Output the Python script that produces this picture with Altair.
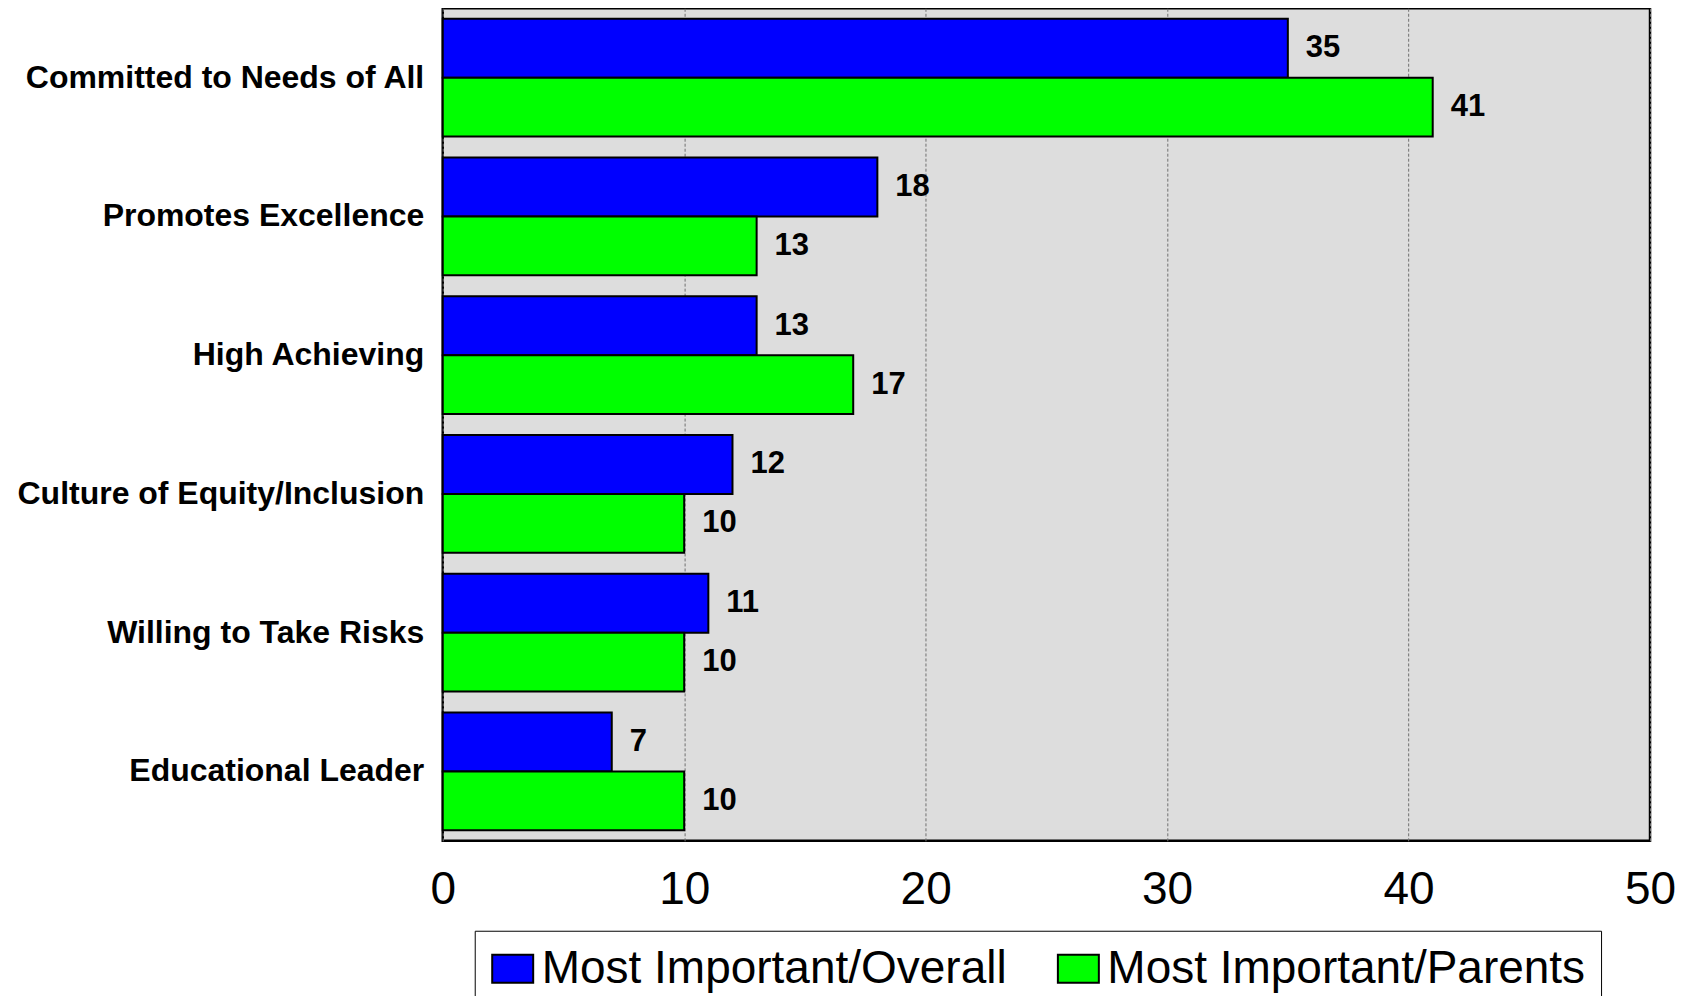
import altair as alt
import pandas as pd

categories = [
    "Committed to Needs of All",
    "Promotes Excellence",
    "High Achieving",
    "Culture of Equity/Inclusion",
    "Willing to Take Risks",
    "Educational Leader",
]
series_names = ["Most Important/Overall", "Most Important/Parents"]
overall = [35, 18, 13, 12, 11, 7]
parents = [41, 13, 17, 10, 10, 10]
series_colors = ["#0000FF", "#00FF00"]
x_ticks = [0, 10, 20, 30, 40, 50]

rows = []
for c, a, b in zip(categories, overall, parents):
    rows.append({"Category": c, "Series": series_names[0], "Value": a})
    rows.append({"Category": c, "Series": series_names[1], "Value": b})
df = pd.DataFrame(rows)

FONT = "Liberation Sans"

y_enc = alt.Y(
    "Category:N",
    sort=categories,
    scale=alt.Scale(paddingInner=0.151, paddingOuter=0.0757),
    axis=alt.Axis(
        title=None,
        labelFont=FONT,
        labelFontSize=32,
        labelFontWeight="bold",
        labelColor="black",
        labelPadding=19,
        labelLimit=1000,
        ticks=False,
        domain=False,
    ),
)
x_enc = alt.X(
    "Value:Q",
    scale=alt.Scale(domain=[0, 50], nice=False),
    axis=alt.Axis(
        title=None,
        values=x_ticks,
        labelFont=FONT,
        labelFontSize=46,
        labelColor="black",
        labelPadding=27,
        ticks=False,
        domain=False,
        grid=True,
        gridColor="#707070",
        gridWidth=1,
        gridDash=[3, 2],
        labelFlush=False,
    ),
)
yoff_enc = alt.YOffset(
    "Series:N",
    sort=series_names,
    scale=alt.Scale(domain=series_names, paddingInner=0, paddingOuter=0),
)

bars = alt.Chart(df).mark_bar(stroke="black", strokeWidth=2, opacity=1).encode(
    x=x_enc,
    y=y_enc,
    yOffset=yoff_enc,
    color=alt.Color(
        "Series:N",
        scale=alt.Scale(domain=series_names, range=series_colors),
        legend=alt.Legend(
            title=None,
            orient="none",
            legendX=32,
            legendY=923,
            direction="horizontal",
            columns=2,
            symbolType="M-1,-0.683H1V0.683H-1Z",
            symbolSize=1681,
            symbolStrokeColor="black",
            symbolStrokeWidth=2,
            symbolOpacity=1,
            labelFont=FONT,
            labelFontSize=46,
            labelColor="black",
            labelLimit=1000,
            labelOffset=6,
            columnPadding=46,
            padding=15,
            strokeColor="black",
            fillColor="white",
        ),
    ),
)

labels = alt.Chart(df).mark_text(
    align="left",
    baseline="middle",
    dx=18,
    font=FONT,
    fontSize=31,
    fontWeight="bold",
    color="black",
).encode(
    x="Value:Q",
    y=alt.Y("Category:N", sort=categories),
    yOffset=alt.YOffset("Series:N", sort=series_names),
    text="Value:Q",
)

chart = (
    alt.layer(bars, labels)
    .properties(
        width=1208,
        height=833,
        autosize=alt.AutoSizeParams(type="none"),
        padding={"left": 435, "top": 0, "right": 40, "bottom": 155},
        background="white",
    )
    .configure_view(fill="#DDDDDD", stroke="black", strokeWidth=2.5)
)

chart.save("out.html", embed_options={"renderer": "svg", "actions": False})
